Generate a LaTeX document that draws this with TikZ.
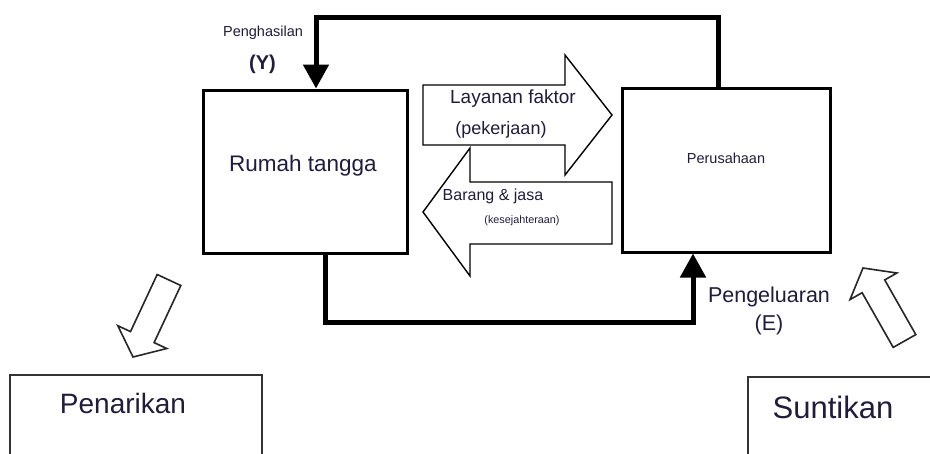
\documentclass[tikz,border=0pt]{standalone}
\usepackage{fontspec}
\setmainfont{Liberation Sans}
\usetikzlibrary{arrows.meta}
\definecolor{txt}{HTML}{211C3C}
\definecolor{boxline}{HTML}{333333}
\tikzset{
  mainbox/.style={draw=black, line width=3pt, inner sep=0pt},
  sidebox/.style={draw=boxline, line width=1.8pt, inner sep=0pt},
  lbl/.style={text=txt, inner sep=0pt, anchor=center},
  flow/.style={line width=5pt, line join=miter, -{Triangle[length=24pt,width=25pt]}},
  hollow/.style={draw=black, line width=1.4pt, fill=white, line join=miter},
  thin/.style={draw=black!85, line width=1.6pt, fill=white, line join=miter}
}
\begin{document}
\begin{tikzpicture}[x=1pt,y=-1pt]
\useasboundingbox[fill=white] (0,0) rectangle (930,453);

% main boxes
\node[mainbox, minimum width=204pt, minimum height=163pt] (rt) at (305,171.5) {};
\node[mainbox, minimum width=208pt, minimum height=164pt] (pr) at (726,170) {};
\node[lbl, font=\fontsize{22.5}{24}\selectfont] (rtl) at (303,166) {Rumah tangga};
\node[lbl, font=\fontsize{14.5}{16}\selectfont] (prl) at (726,158) {Perusahaan};

% side boxes (cut by the page bottom / right)
\node[sidebox, minimum width=252pt, minimum height=120pt] (pn) at (136,435) {};
\node[sidebox, minimum width=200pt, minimum height=120pt] (su) at (848,437) {};
\node[lbl, font=\fontsize{28}{30}\selectfont] (pnl) at (123,403) {Penarikan};
\node[lbl, font=\fontsize{31}{33}\selectfont] (sul) at (833,407) {Suntikan};

% hollow big arrows between boxes
\draw[hollow] (423,85) -- (565,85) -- (565,55) -- (612,115) -- (565,175) -- (565,145) -- (423,145) -- cycle;
\draw[hollow] (612,182) -- (470,182) -- (470,148) -- (423,212) -- (470,276) -- (470,244) -- (612,244) -- cycle;
\node[lbl, font=\fontsize{19}{21}\selectfont] (lf) at (513,99) {Layanan faktor};
\node[lbl, font=\fontsize{18}{20}\selectfont] (pk) at (501,130) {(pekerjaan)};
\node[lbl, font=\fontsize{16}{18}\selectfont] (bj) at (493,196) {Barang \& jasa};
\node[lbl, font=\fontsize{10.8}{12}\selectfont] (ks) at (522,221) {(kesejahteraan)};

% small hollow arrows
\draw[thin] (180.8,285.5) -- (154.1,342.6) -- (166.8,348.5) -- (133,357) -- (117.8,325.7) -- (130.5,331.6) -- (157.2,274.5) -- cycle;
\draw[thin] (915.8,334.6) -- (884.7,279.9) -- (896.9,273.0) -- (863,268) -- (850.0,299.6) -- (862.1,292.7) -- (893.2,347.4) -- cycle;

% money flows
\coordinate (tR) at (718,17);
\coordinate (tL) at (316,17);
\coordinate (bL) at (325,322);
\coordinate (bR) at (693,322);
\draw[flow] (pr.north -| tR) -- (tR) -- (tL) -- (rt.north -| tL);
\draw[flow] (rt.south -| bL) -- (bL) -- (bR) -- (pr.south -| bR);

\node[lbl, font=\fontsize{14.5}{16}\selectfont] (ph) at (263,33) {Penghasilan};
\node[lbl, font=\bfseries\fontsize{20}{22}\selectfont] (y) at (262.5,64) {(Y)};
\node[lbl, font=\fontsize{21.5}{23}\selectfont] (pg) at (769,297) {Pengeluaran};
\node[lbl, font=\fontsize{21.5}{23}\selectfont] (e) at (769,325) {(E)};
\end{tikzpicture}
\end{document}
